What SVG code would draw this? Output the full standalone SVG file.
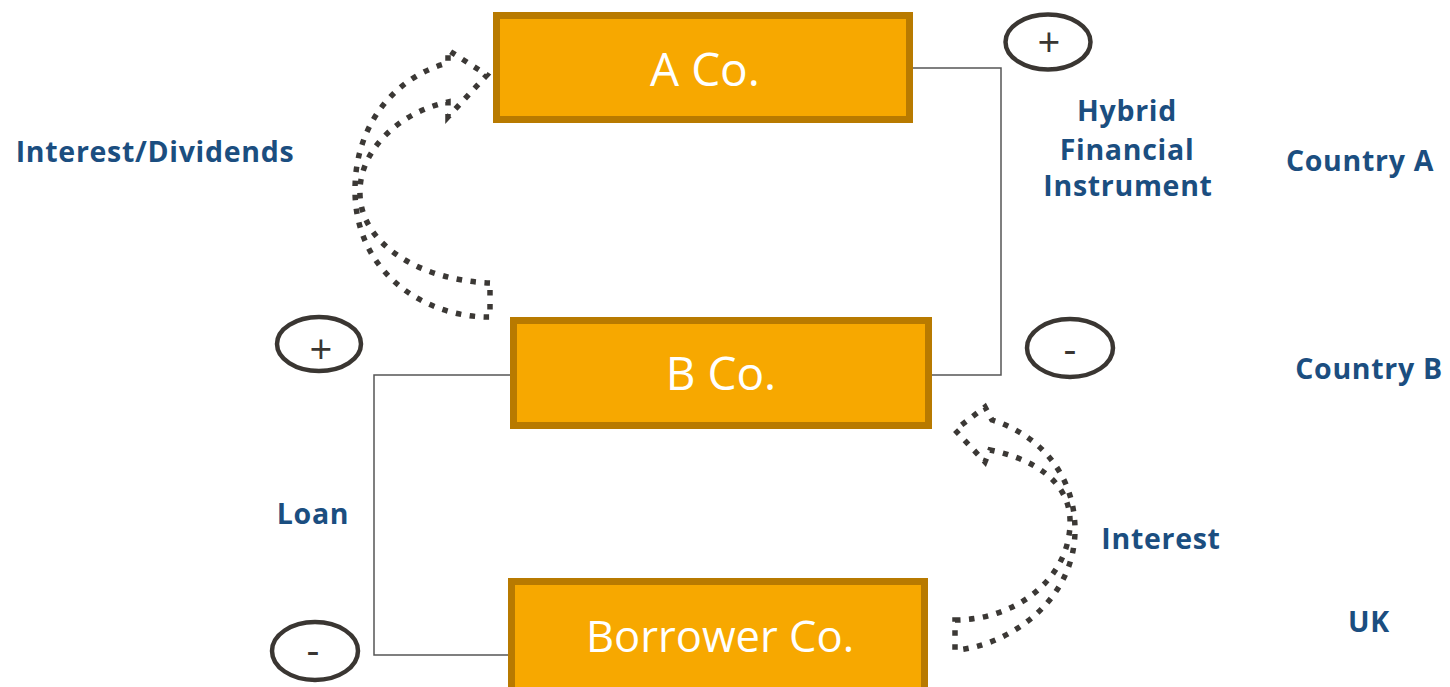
<svg xmlns="http://www.w3.org/2000/svg" width="1450" height="687" viewBox="0 0 1450 687">
<style>
.box{fill:#F7A800;stroke:#B87A00;stroke-width:7}
.boxtxt{font-family:"Open Sans","Liberation Sans",sans-serif;font-size:46px;fill:#ffffff;text-anchor:middle}
.lbl{font-family:"Open Sans","Liberation Sans",sans-serif;font-weight:bold;font-size:28.5px;letter-spacing:0.7px;fill:#1B4E80;text-anchor:middle}
.conn{fill:none;stroke:#555555;stroke-width:1.5}
.flow{fill:none;stroke:#3B3835;stroke-width:5.5;stroke-dasharray:5.5 8.5}
.sign{fill:#ffffff;stroke:#3A3632;stroke-width:4.5}
.signtxt{font-family:"Open Sans","Liberation Sans",sans-serif;font-size:40px;fill:#3A3632;text-anchor:middle}
</style>
<rect width="1450" height="687" fill="#ffffff"/>
<g id="connectors">
<polyline class="conn" points="913,68 1001,68 1001,375 932,375"/>
<polyline class="conn" points="510,375 374,375 374,655 508,655"/>
</g>
<g id="flow-interest-dividends">
<path class="flow" d="M490,283 C420,280 362,245 360,195 C358,150 400,112 448,102 L448,117 L487,75 L448,50 L448,63 C400,75 355,120 355,190 C355,270 420,315 485,317 L490,317 Z"/>
</g>
<g id="flow-interest">
<path class="flow" d="M955,620 C1015,620 1068,580 1070,525 C1072,480 1030,458 990,450 L985,462 L955,430 L985,407 L992,420 C1040,435 1075,475 1075,530 C1075,600 1010,645 957,650 L955,650 Z"/>
</g>
<g id="node-a">
<rect class="box" x="496.5" y="15.5" width="413" height="104"/>
<text class="boxtxt" x="705" y="86">A Co.</text>
</g>
<g id="node-b">
<rect class="box" x="513.5" y="320.5" width="415" height="105"/>
<text class="boxtxt" x="721" y="390">B Co.</text>
</g>
<g id="node-borrower">
<rect class="box" x="511.5" y="581.5" width="413" height="115"/>
<text class="boxtxt" x="720" y="652" style="font-size:43.5px">Borrower Co.</text>
</g>
<g id="sign-a-plus">
<ellipse class="sign" cx="1048" cy="42" rx="42.5" ry="27.5"/>
<text class="signtxt" x="1049" y="57">+</text>
</g>
<g id="sign-b-minus">
<ellipse class="sign" cx="1070" cy="348" rx="43" ry="29"/>
<text class="signtxt" x="1070" y="363">-</text>
</g>
<g id="sign-b-plus">
<ellipse class="sign" cx="319" cy="344" rx="42" ry="27"/>
<text class="signtxt" x="321" y="364">+</text>
</g>
<g id="sign-borrower-minus">
<ellipse class="sign" cx="315" cy="651" rx="43" ry="29"/>
<text class="signtxt" x="313" y="664">-</text>
</g>
<g id="labels">
<text class="lbl" x="155" y="162">Interest/Dividends</text>
<text class="lbl" x="1127" y="121">Hybrid</text>
<text class="lbl" x="1127" y="160">Financial</text>
<text class="lbl" x="1128" y="196">Instrument</text>
<text class="lbl" x="1360" y="171">Country A</text>
<text class="lbl" x="1369" y="379">Country B</text>
<text class="lbl" x="313" y="524">Loan</text>
<text class="lbl" x="1161" y="549">Interest</text>
<text class="lbl" x="1369" y="632">UK</text>
</g>
</svg>
